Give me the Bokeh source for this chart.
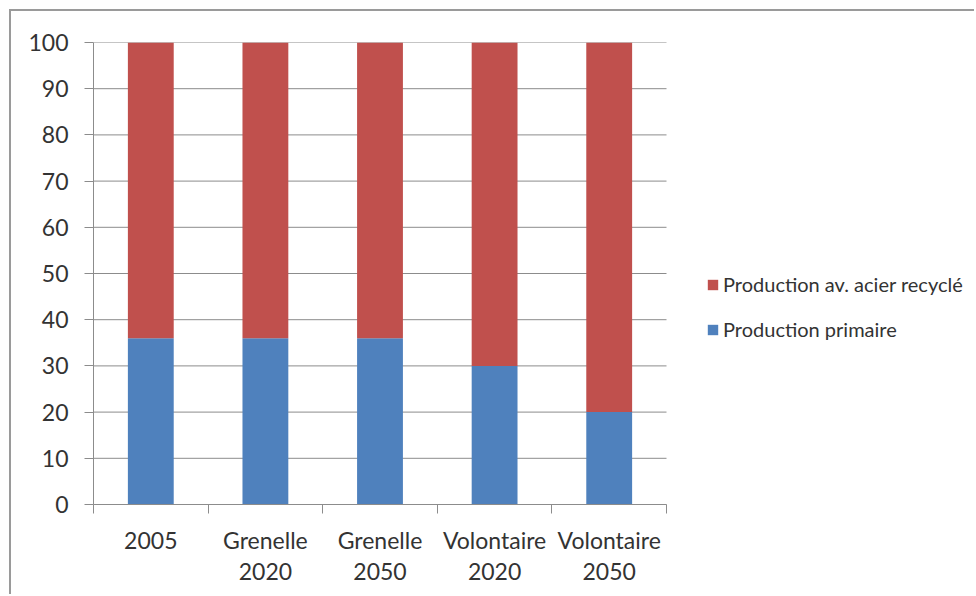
from bokeh.plotting import figure
from bokeh.models import (Range1d, FixedTicker, LinearAxis, Legend, LegendItem,
                          ColumnDataSource)
from bokeh.embed import file_html
from bokeh.resources import INLINE

# ---- data ----
categories = ["2005", "Grenelle 2020", "Grenelle 2050", "Volontaire 2020", "Volontaire 2050"]
production_primaire = [36, 36, 36, 30, 20]
production_recyclee = [64, 64, 64, 70, 80]
y_ticks = [0, 10, 20, 30, 40, 50, 60, 70, 80, 90, 100]
series_names = ["Production primaire", "Production av. acier recyclé"]
series_colors = ["#4F81BD", "#C0504D"]

FONT = "Lato"
TEXT = "#333333"
GRID = "#8c8c8c"

n = len(categories)
# the plot frame is extended to the right to host the legend (category width kept)
X_END = n * 883 / 573
xpos = [i + 0.5 for i in range(n)]
src = ColumnDataSource(dict(x=xpos, primaire=production_primaire, recyclee=production_recyclee))

p = figure(width=965, height=585, x_range=Range1d(0, X_END), y_range=Range1d(0, 100),
           output_backend="svg", toolbar_location=None,
           x_axis_type=None, y_axis_type=None,
           min_border_left=82, min_border_right=0, min_border_top=31, min_border_bottom=92)
p.outline_line_color = None
p.background_fill_color = "white"
p.border_fill_color = "white"
p.margin = (9, 0, 0, 9)
p.styles = {"border-left": "2px solid #9a9a9a", "border-top": "2px solid #9a9a9a"}

# horizontal grid lines, limited to the category area
p.segment(x0=[0] * len(y_ticks), x1=[n] * len(y_ticks), y0=y_ticks, y1=y_ticks,
          line_color=GRID, line_width=1)

rs = p.vbar_stack(["primaire", "recyclee"], x="x", width=0.4, source=src,
                  color=series_colors, line_color=None)

yticker = FixedTicker(ticks=y_ticks)
yaxis = LinearAxis(ticker=yticker)
yaxis.axis_line_color = GRID
yaxis.major_tick_line_color = GRID
yaxis.major_tick_out = 9
yaxis.major_tick_in = 0
yaxis.minor_tick_line_color = None
yaxis.major_label_standoff = 16
yaxis.major_label_text_font = FONT
yaxis.major_label_text_font_size = "23px"
yaxis.major_label_text_color = TEXT
p.add_layout(yaxis, "left")

xticker = FixedTicker(ticks=xpos, minor_ticks=list(range(n + 1)))
xaxis = LinearAxis(ticker=xticker, bounds=(0, n))
xaxis.major_label_overrides = {x: c.replace(" ", "\n") for x, c in zip(xpos, categories)}
xaxis.axis_line_color = GRID
xaxis.major_tick_line_color = None
xaxis.major_tick_out = 0
xaxis.major_tick_in = 0
xaxis.minor_tick_line_color = GRID
xaxis.minor_tick_out = 9
xaxis.minor_tick_in = 0
xaxis.major_label_standoff = 12
xaxis.major_label_text_font = FONT
xaxis.major_label_text_font_size = "23px"
xaxis.major_label_text_color = TEXT
xaxis.major_label_text_line_height = 1.12
p.add_layout(xaxis, "below")

legend = Legend(items=[LegendItem(label=series_names[1], renderers=[rs[1]]),
                       LegendItem(label=series_names[0], renderers=[rs[0]])],
                location=(613, 163))
legend.border_line_color = None
legend.background_fill_alpha = 0
legend.padding = 0
legend.margin = 0
legend.glyph_width = 13
legend.glyph_height = 13
legend.label_height = 22
legend.spacing = 21
legend.label_standoff = 4
legend.label_text_font = FONT
legend.label_text_font_size = "20px"
legend.label_text_color = TEXT
p.add_layout(legend, "center")

open("out.html", "w").write(file_html(p, INLINE))
